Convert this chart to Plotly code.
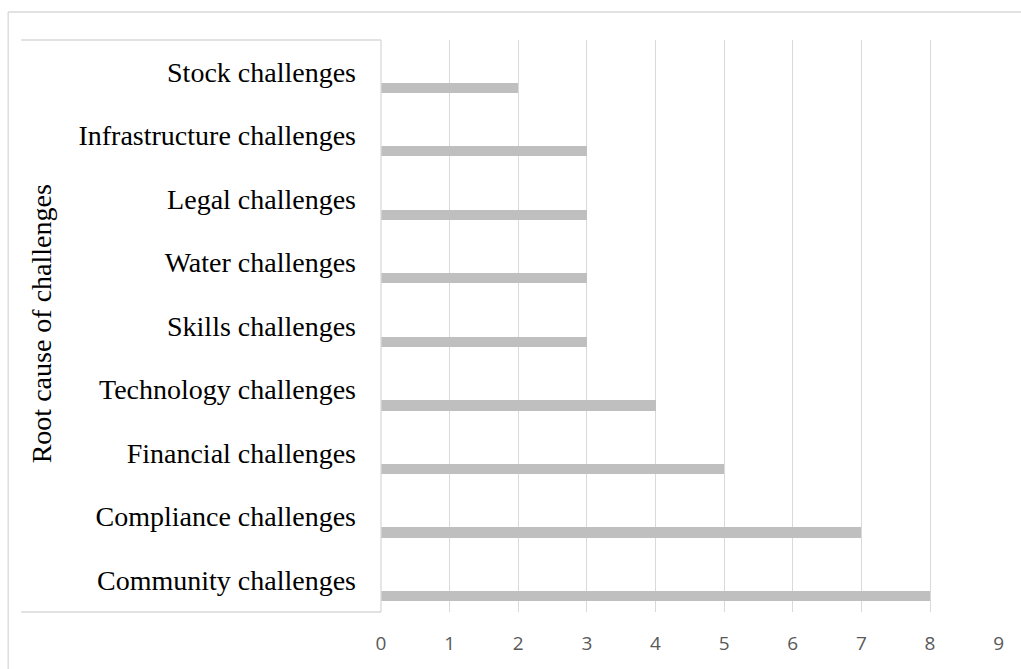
import plotly.graph_objects as go

categories = ["Community challenges", "Compliance challenges", "Financial challenges",
              "Technology challenges", "Skills challenges", "Water challenges",
              "Legal challenges", "Infrastructure challenges", "Stock challenges"]
values = [8, 7, 5, 4, 3, 3, 3, 3, 2]
x_ticks = [0, 1, 2, 3, 4, 5, 6, 7, 8, 9]
y_title = "Root cause of challenges"

W, H = 1021, 669
L, R = 381, 999.3
T, B = 40, 611.7

def px(x):
    return (x - L) / (R - L)

def py(y):
    return (B - y) / (B - T)

fig = go.Figure(go.Bar(
    y=categories, x=values, orientation="h",
    marker=dict(color="#BFBFBF", line=dict(width=0)),
    width=0.16, offset=-0.33,
))

line = dict(color="#D9D9D9", width=1.3)
shapes = [
    # outer border
    dict(type="line", xref="paper", yref="paper", x0=px(8), x1=px(1030), y0=py(12), y1=py(12), line=line),
    dict(type="line", xref="paper", yref="paper", x0=px(8), x1=px(8), y0=py(12), y1=py(680), line=line),
    # label box
    dict(type="line", xref="paper", yref="paper", x0=px(21), x1=px(L), y0=py(T), y1=py(T), line=line),
    dict(type="line", xref="paper", yref="paper", x0=px(21), x1=px(L), y0=py(B), y1=py(B), line=line),
    dict(type="line", xref="paper", yref="paper", x0=px(L), x1=px(L), y0=py(T), y1=py(B), line=line),
]

fig.update_layout(
    width=W, height=H,
    margin=dict(l=L, r=W - R, t=T, b=H - B, pad=0),
    paper_bgcolor="white", plot_bgcolor="white",
    showlegend=False,
    shapes=shapes,
    bargap=0,
    annotations=[dict(
        text=y_title, xref="paper", yref="paper",
        x=px(41), y=py(324), xanchor="center", yanchor="middle",
        textangle=-90, showarrow=False,
        font=dict(family="Liberation Serif", size=28, color="#000000"),
    )],
)
fig.update_xaxes(
    range=[0, 9.005], tickvals=x_ticks, showgrid=True, gridcolor="#D9D9D9", gridwidth=1.3,
    zeroline=False, showline=False, ticks="", ticklabelstandoff=18,
    tickfont=dict(family="Open Sans", size=19, color="#595959"),
    fixedrange=True,
)
fig.update_yaxes(
    type="category", categoryorder="array", categoryarray=categories,
    range=[-0.5, 8.5], showgrid=False, zeroline=False, showline=False,
    ticks="", ticklabelstandoff=24,
    tickfont=dict(family="Liberation Serif", size=28, color="#000000"),
    fixedrange=True,
)

fig.write_html("out.html")
